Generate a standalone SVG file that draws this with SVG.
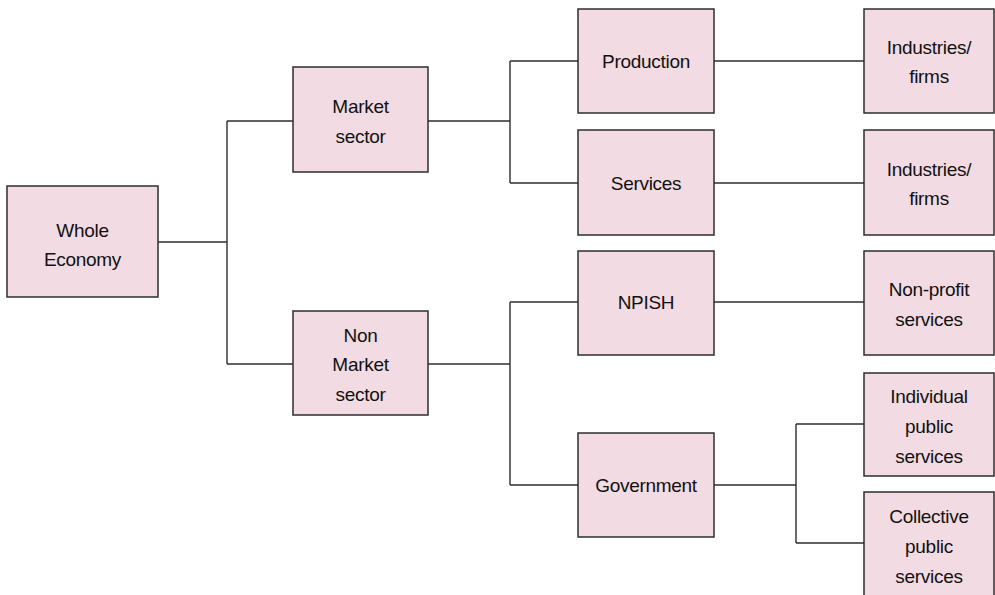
<svg xmlns="http://www.w3.org/2000/svg" width="995" height="595" viewBox="0 0 995 595">
  <style>
    .box { fill: #f3dbe3; stroke: #2e2e2e; stroke-width: 1.5; }
    .lbl { font-family: "Liberation Sans", Arial, sans-serif; font-size: 19px; letter-spacing: -0.3px; fill: #111111; text-anchor: middle; }
    .conn { fill: none; stroke: #2e2e2e; stroke-width: 1.4; }
  </style>
  <rect width="995" height="595" fill="#ffffff"/>

  <!-- connectors -->
  <g id="connectors" class="conn">
    <path d="M158,242 H227 M227,121 V364 M227,121 H293 M227,364 H293"/>
    <path d="M428,121 H510 M510,61 V183 M510,61 H578 M510,183 H578"/>
    <path d="M428,364 H510 M510,302 V485 M510,302 H578 M510,485 H578"/>
    <path d="M714,61 H864 M714,183 H864 M714,302 H864"/>
    <path d="M714,485 H796 M796,424 V543 M796,424 H864 M796,543 H864"/>
  </g>

  <!-- nodes -->
  <g id="whole-economy">
    <rect class="box" x="7" y="186" width="151" height="111"/>
    <text class="lbl" x="82.5" y="237">Whole</text>
    <text class="lbl" x="82.5" y="266">Economy</text>
  </g>
  <g id="market-sector">
    <rect class="box" x="293" y="67" width="135" height="105"/>
    <text class="lbl" x="360.5" y="113">Market</text>
    <text class="lbl" x="360.5" y="143">sector</text>
  </g>
  <g id="non-market-sector">
    <rect class="box" x="293" y="311" width="135" height="104"/>
    <text class="lbl" x="360.5" y="342">Non</text>
    <text class="lbl" x="360.5" y="371">Market</text>
    <text class="lbl" x="360.5" y="401">sector</text>
  </g>
  <g id="production">
    <rect class="box" x="578" y="9" width="136" height="104"/>
    <text class="lbl" x="646" y="68">Production</text>
  </g>
  <g id="services">
    <rect class="box" x="578" y="130" width="136" height="105"/>
    <text class="lbl" x="646" y="190">Services</text>
  </g>
  <g id="npish">
    <rect class="box" x="578" y="251" width="136" height="104"/>
    <text class="lbl" x="646" y="309">NPISH</text>
  </g>
  <g id="government">
    <rect class="box" x="578" y="433" width="136" height="104"/>
    <text class="lbl" x="646" y="492">Government</text>
  </g>
  <g id="industries-production">
    <rect class="box" x="864" y="9" width="130" height="104"/>
    <text class="lbl" x="929" y="54">Industries/</text>
    <text class="lbl" x="929" y="83">firms</text>
  </g>
  <g id="industries-services">
    <rect class="box" x="864" y="130" width="130" height="105"/>
    <text class="lbl" x="929" y="176">Industries/</text>
    <text class="lbl" x="929" y="205">firms</text>
  </g>
  <g id="non-profit-services">
    <rect class="box" x="864" y="251" width="130" height="104"/>
    <text class="lbl" x="929" y="296">Non-profit</text>
    <text class="lbl" x="929" y="326">services</text>
  </g>
  <g id="individual-public-services">
    <rect class="box" x="864" y="373" width="130" height="103"/>
    <text class="lbl" x="929" y="403">Individual</text>
    <text class="lbl" x="929" y="433">public</text>
    <text class="lbl" x="929" y="463">services</text>
  </g>
  <g id="collective-public-services">
    <rect class="box" x="864" y="492" width="130" height="106"/>
    <text class="lbl" x="929" y="523">Collective</text>
    <text class="lbl" x="929" y="553">public</text>
    <text class="lbl" x="929" y="583">services</text>
  </g>
</svg>
